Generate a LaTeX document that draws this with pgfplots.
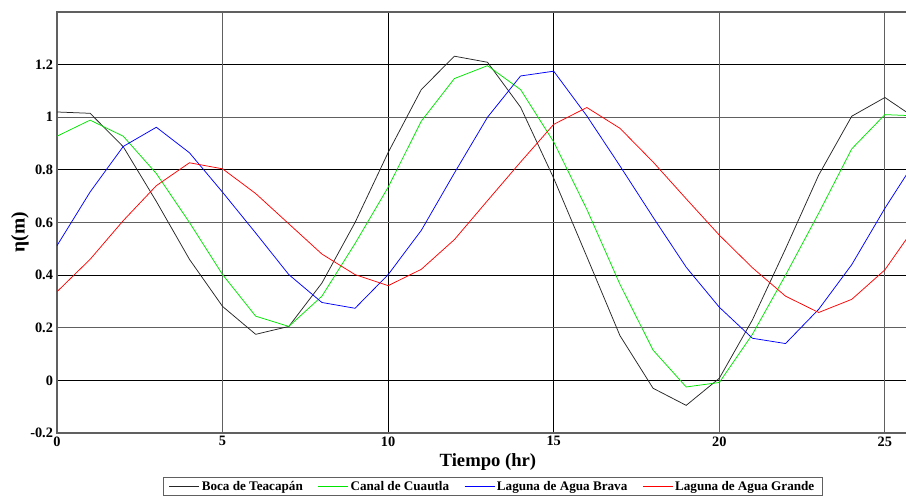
\documentclass[border=0pt]{standalone}
\usepackage{fontspec}
\setmainfont{Liberation Serif}
\usepackage{pgfplots}
\usepackage{pgfplotstable}
\pgfplotsset{compat=1.18}

% hourly water level at the four stations
\pgfplotstableread{
t  boca   canal  brava  grande
0  1.020  0.928  0.512  0.337
1  1.015  0.989  0.716  0.460
2  0.888  0.928  0.889  0.607
3  0.680  0.786  0.962  0.740
4  0.460  0.600  0.865  0.827
5  0.281  0.402  0.715  0.804
6  0.175  0.244  0.560  0.710
7  0.205  0.205  0.402  0.595
8  0.370  0.320  0.296  0.480
9  0.600  0.520  0.274  0.402
10 0.866  0.734  0.402  0.360
11 1.105  0.985  0.570  0.422
12 1.232  1.147  0.788  0.535
13 1.209  1.196  1.000  0.683
14 1.038  1.105  1.157  0.830
15 0.768  0.906  1.175  0.973
16 0.470  0.650  1.005  1.037
17 0.170  0.365  0.815  0.958
18 -0.030 0.115  0.620  0.830
19 -0.095 -0.025 0.430 0.690
20 0.008  -0.008 0.278  0.552
21 0.230  0.175  0.160  0.428
22 0.500  0.400  0.140  0.320
23 0.780  0.635  0.270  0.258
24 1.004  0.880  0.440  0.308
25 1.075  1.010  0.654  0.420
26 0.990  1.005  0.850  0.600
}\niveles

\begin{document}
\begin{tikzpicture}
\begin{axis}[
  name=ax,
  scale only axis,
  width=861bp, height=421bp,
  xmin=0, xmax=26, ymin=-0.2, ymax=1.4,
  axis line style={gray!75!black, line width=1.1bp},
  xtick={10,15}, extra x ticks={0,5,20,25},
  ytick={0,0.4,0.8,1.2}, extra y ticks={-0.2,0.2,0.6,1},
  extra x tick style={grid style={gray!75!black, line width=1.1bp}},
  extra y tick style={grid style={gray!75!black, line width=1.1bp}},
  grid=major, grid style={black, line width=0.8bp},
  major tick length=0pt,
  /pgf/number format/assume math mode=true,
  tick label style={font=\fontsize{14.4}{16}\selectfont\bfseries},
  yticklabel style={xshift=-0.5bp},
  xlabel={Tiempo (hr)},
  xlabel style={font=\fontsize{18.7}{21}\selectfont\bfseries,
    at={(axis description cs:0.5005,-0.069)}, anchor=center},
  ylabel={η(m)},
  ylabel style={font=\fontsize{19.5}{21}\selectfont\bfseries,
    at={(axis description cs:-0.043,0.477)}, anchor=center},
  legend columns=4,
  legend style={at={(0.506,-0.1045)}, anchor=north,
    draw=gray!75!black, line width=1bp,
    font=\fontsize{13.2}{15}\selectfont\bfseries,
    inner xsep=6bp, inner ysep=1.5bp,
    /tikz/every even column/.append style={column sep=13bp}},
  legend image code/.code={\draw[#1] (0bp,0bp) -- (30bp,0bp);},
  every axis plot/.append style={line width=0.75bp},
]
\addplot[black!85] table[x=t, y=boca] {\niveles};
\addlegendentry{Boca de Teacapán}
\addplot[green!90!black] table[x=t, y=canal] {\niveles};
\addlegendentry{Canal de Cuautla}
\addplot[blue] table[x=t, y=brava] {\niveles};
\addlegendentry{Laguna de Agua Brava}
\addplot[red] table[x=t, y=grande] {\niveles};
\addlegendentry{Laguna de Agua Grande}
\coordinate (bl) at (rel axis cs:0,0);
\coordinate (tl) at (rel axis cs:0,1);
\end{axis}
\pgfresetboundingbox
\path[use as bounding box] ([xshift=-57bp,yshift=-63bp]bl) rectangle ([xshift=849bp,yshift=12bp]tl);
\end{tikzpicture}
\end{document}
